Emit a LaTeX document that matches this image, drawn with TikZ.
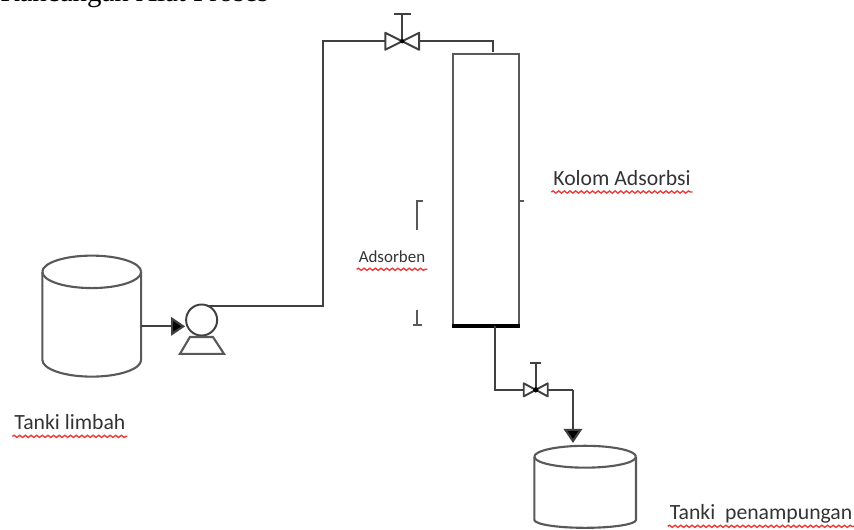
\documentclass[tikz,border=0pt]{standalone}
\usepackage{fontspec}
\setmainfont{Liberation Serif}
\newfontfamily\labelfont{Carlito}
\usetikzlibrary{decorations.pathmorphing,arrows.meta}
\definecolor{wavyred}{RGB}{235,60,60}
\tikzset{
    pipe/.style={line width=1.2pt,draw=black!75},
    wall/.style={line width=1.2pt,draw=black!65},
    flow/.style={pipe,-{Triangle[length=8pt,width=10.5pt,fill=black]}},
    lbl/.style={font=\labelfont\fontsize{12.3}{14}\selectfont,inner sep=1pt,text=black!80,text height=8pt,text depth=2.5pt},
    wavy/.style={draw=wavyred,line width=0.8pt,decorate,decoration={snake,amplitude=0.6pt,segment length=3.2pt}},
    valve/.style={line width=1.1pt,draw=black!75,fill=white,line join=round}
}
\begin{document}
\begin{tikzpicture}[x=1pt,y=1pt]
    \useasboundingbox (0,0) rectangle (484.1,300.4);
    % title, cut by the top edge
    \begin{scope}
    \clip (0,0) rectangle (484.1,300.4);
    \node[anchor=base west,inner sep=0pt,font=\fontsize{16.4}{18}\selectfont] (title) at (0,299.6) {Rancangan Alat Proses};
    \end{scope}

    % tank 1
    \draw[wall] (24,146.3) arc (180:0:28 and 9.2);
    \draw[wall] (24,146.3) arc (180:360:28 and 9.2);
    \draw[wall] (24,146.3) -- (24,96.4) arc (180:360:28 and 9.5) -- (80,146.3);

    % pump
    \node[draw=black!75,circle,line width=1.1pt,minimum size=17.6pt,inner sep=0pt] (P) at (114.3,119) {};
    \coordinate (Pb1) at (107.7,109.4);
    \coordinate (Pb2) at (102,99.8);
    \coordinate (Pb3) at (127,99.8);
    \coordinate (Pb4) at (120.7,109.4);
    \draw[wall] (Pb1) -- (Pb2) -- (Pb3) -- (Pb4) -- cycle;
    \coordinate (T1out) at (80,115.4);
    \draw[flow] (T1out) -- (P.west |- T1out);

    % feed line
    \coordinate (C1) at (183,127);
    \coordinate (C2) at (183,277);
    \coordinate (C3) at (279.3,277);
    \node[inner sep=0pt,minimum size=1pt] (V1) at (228,277) {};
    \draw[pipe] (P.70 |- C1) -- (C1) -- (C2) -- (V1) -- (C3) -- (C3 |- 0,270.9);
    \draw[valve] (V1.center) -- (218.4,281.8) -- (218.4,272.2) -- cycle;
    \draw[valve] (V1.center) -- (237.6,281.8) -- (237.6,272.2) -- cycle;
    \draw[valve] (V1.center) -- (228,292.5);
    \draw[valve] (223.2,292.5) -- (232.8,292.5);
    \fill[black] (V1.center) circle (1.2pt);

    % column
    \node[draw=black!65,line width=1.2pt,minimum width=37.6pt,minimum height=153.8pt,inner sep=0pt] (K) at (275.4,192.9) {};
    \draw[line width=2.2pt] (K.south west) -- (K.south east);
    \draw[wall] (294.2,186.6) -- (297,186.6);

    % bracket for adsorbent
    \node[lbl,font=\labelfont\fontsize{9.6}{11}\selectfont] (Ad) at (222.2,154.2) {Adsorben};
    \draw[wall] (240,186.5) -- (236.4,186.5) -- (236.4,170);
    \draw[wall] (236.6,124.7) -- (236.6,116.2);
    \draw[wall] (234.2,116.2) -- (239,116.2);

    % outlet line
    \coordinate (D1) at (280.6,115.8);
    \coordinate (D2) at (280.6,79.4);
    \coordinate (D3) at (324.8,79.4);
    \coordinate (D4) at (324.8,49.3);
    \node[inner sep=0pt,minimum size=1pt] (V2) at (303.7,79.4) {};
    \draw[pipe] (D1) -- (D2) -- (V2) -- (D3);
    \draw[flow] (D3) -- (D4);
    \draw[valve] (V2.center) -- (296.9,83.1) -- (296.9,75.7) -- cycle;
    \draw[valve] (V2.center) -- (310.5,83.1) -- (310.5,75.7) -- cycle;
    \draw[valve] (V2.center) -- (303.7,94.7);
    \draw[valve] (300.7,94.7) -- (306.7,94.7);
    \fill[black] (V2.center) circle (1.5pt);

    % tank 2
    \draw[wall] (302.9,41.5) arc (180:0:28.8 and 6.2);
    \draw[wall] (302.9,41.5) arc (180:360:28.8 and 6.2);
    \draw[wall] (302.9,41.5) -- (302.9,5.7) arc (180:360:28.8 and 4.5) -- (360.5,41.5);

    % labels
    \node[lbl,anchor=west] (T1lbl) at (7,59.5) {Tanki limbah};
    \node[lbl,anchor=west] (K1lbl) at (312.5,198) {Kolom Adsorbsi};
    \node[lbl,anchor=west] (T2lbl) at (378.5,8.5) {Tanki\ \ penampungan};
    \draw[wavy] (T1lbl.south west) -- (T1lbl.south east);
    \draw[wavy] (Ad.south west) -- (Ad.south east);
    \draw[wavy] (K1lbl.south west) -- (K1lbl.south east);
    \draw[wavy] (T2lbl.south west) -- (T2lbl.south east);
\end{tikzpicture}
\end{document}
